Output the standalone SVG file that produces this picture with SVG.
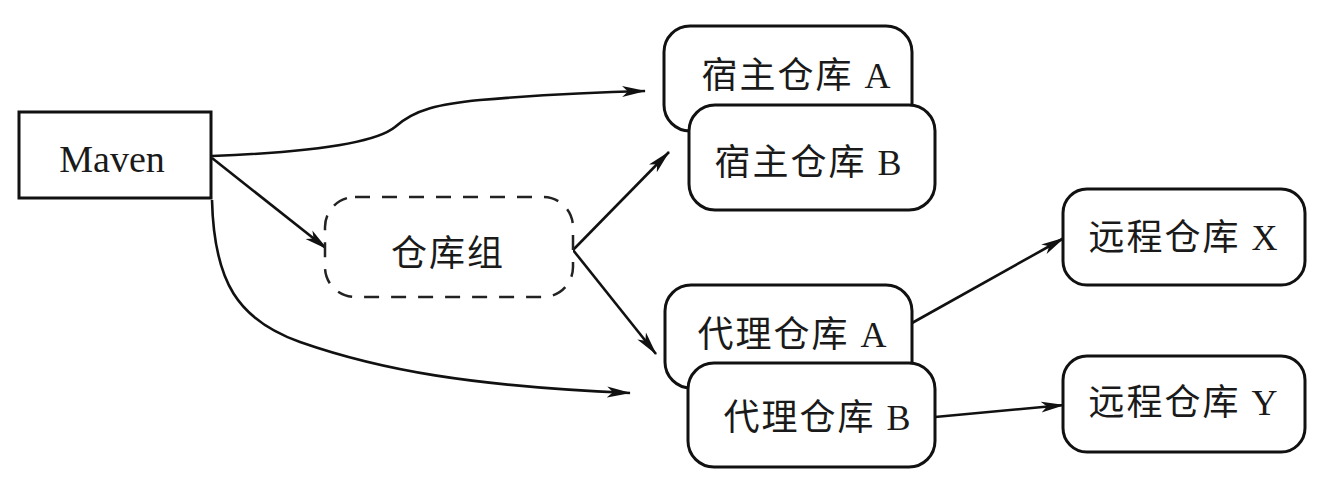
<svg xmlns="http://www.w3.org/2000/svg" width="1332" height="501" viewBox="0 0 1332 501">
<style>
.box{fill:#fff;stroke:#111;stroke-width:3}
.dash{fill:#fff;stroke:#222;stroke-width:2.5;stroke-dasharray:15 12}
.lbl{font-family:"Liberation Serif","Noto Sans CJK SC",serif;font-size:36px;fill:#1a1a1a;text-anchor:middle;letter-spacing:2px}
.edge{fill:none;stroke:#111;stroke-width:2.6;marker-end:url(#ah)}
</style>
<defs>
<marker id="ah" markerWidth="24" markerHeight="12" refX="23" refY="6" orient="auto" markerUnits="userSpaceOnUse">
<path d="M0,0.5 L24,6 L0,11.5 L6,6 Z" fill="#111"/>
</marker>
</defs>
<rect width="1332" height="501" fill="#fff"/>
<g id="connectors">
<path class="edge" d="M212,156 C290,153 372,146 395,127 C415,109 440,104 480,100 C540,95 600,92 645,91"/>
<path class="edge" d="M212,158 L327,249"/>
<path class="edge" d="M212,200 C214,282 238,320 300,342 C380,370 470,386 630,393"/>
<path class="edge" d="M573,250 L669,152"/>
<path class="edge" d="M573,250 L656,354"/>
<path class="edge" d="M912,323 L1064,238"/>
<path class="edge" d="M935,417 L1064,405"/>
</g>
<g id="maven">
<rect class="box" x="19" y="112" width="192" height="86"/>
<text class="lbl" x="112" y="172" style="letter-spacing:0;font-size:38px">Maven</text>
</g>
<g id="group">
<rect class="dash" x="325" y="197" width="248" height="100" rx="30"/>
<text class="lbl" x="448" y="266">仓库组</text>
</g>
<g id="hostedA">
<rect class="box" x="664" y="26" width="248" height="105" rx="26"/>
<text class="lbl" x="797" y="88">宿主仓库 A</text>
</g>
<g id="hostedB">
<rect class="box" x="689" y="105" width="246" height="105" rx="26"/>
<text class="lbl" x="809" y="175">宿主仓库 B</text>
</g>
<g id="proxyA">
<rect class="box" x="665" y="285" width="247" height="103" rx="26"/>
<text class="lbl" x="793" y="347">代理仓库 A</text>
</g>
<g id="proxyB">
<rect class="box" x="688" y="363" width="247" height="104" rx="26"/>
<text class="lbl" x="818" y="430">代理仓库 B</text>
</g>
<g id="remoteX">
<rect class="box" x="1063" y="189" width="242" height="96" rx="24"/>
<text class="lbl" x="1184" y="250">远程仓库 X</text>
</g>
<g id="remoteY">
<rect class="box" x="1063" y="356" width="242" height="96" rx="24"/>
<text class="lbl" x="1184" y="415">远程仓库 Y</text>
</g>
</svg>
